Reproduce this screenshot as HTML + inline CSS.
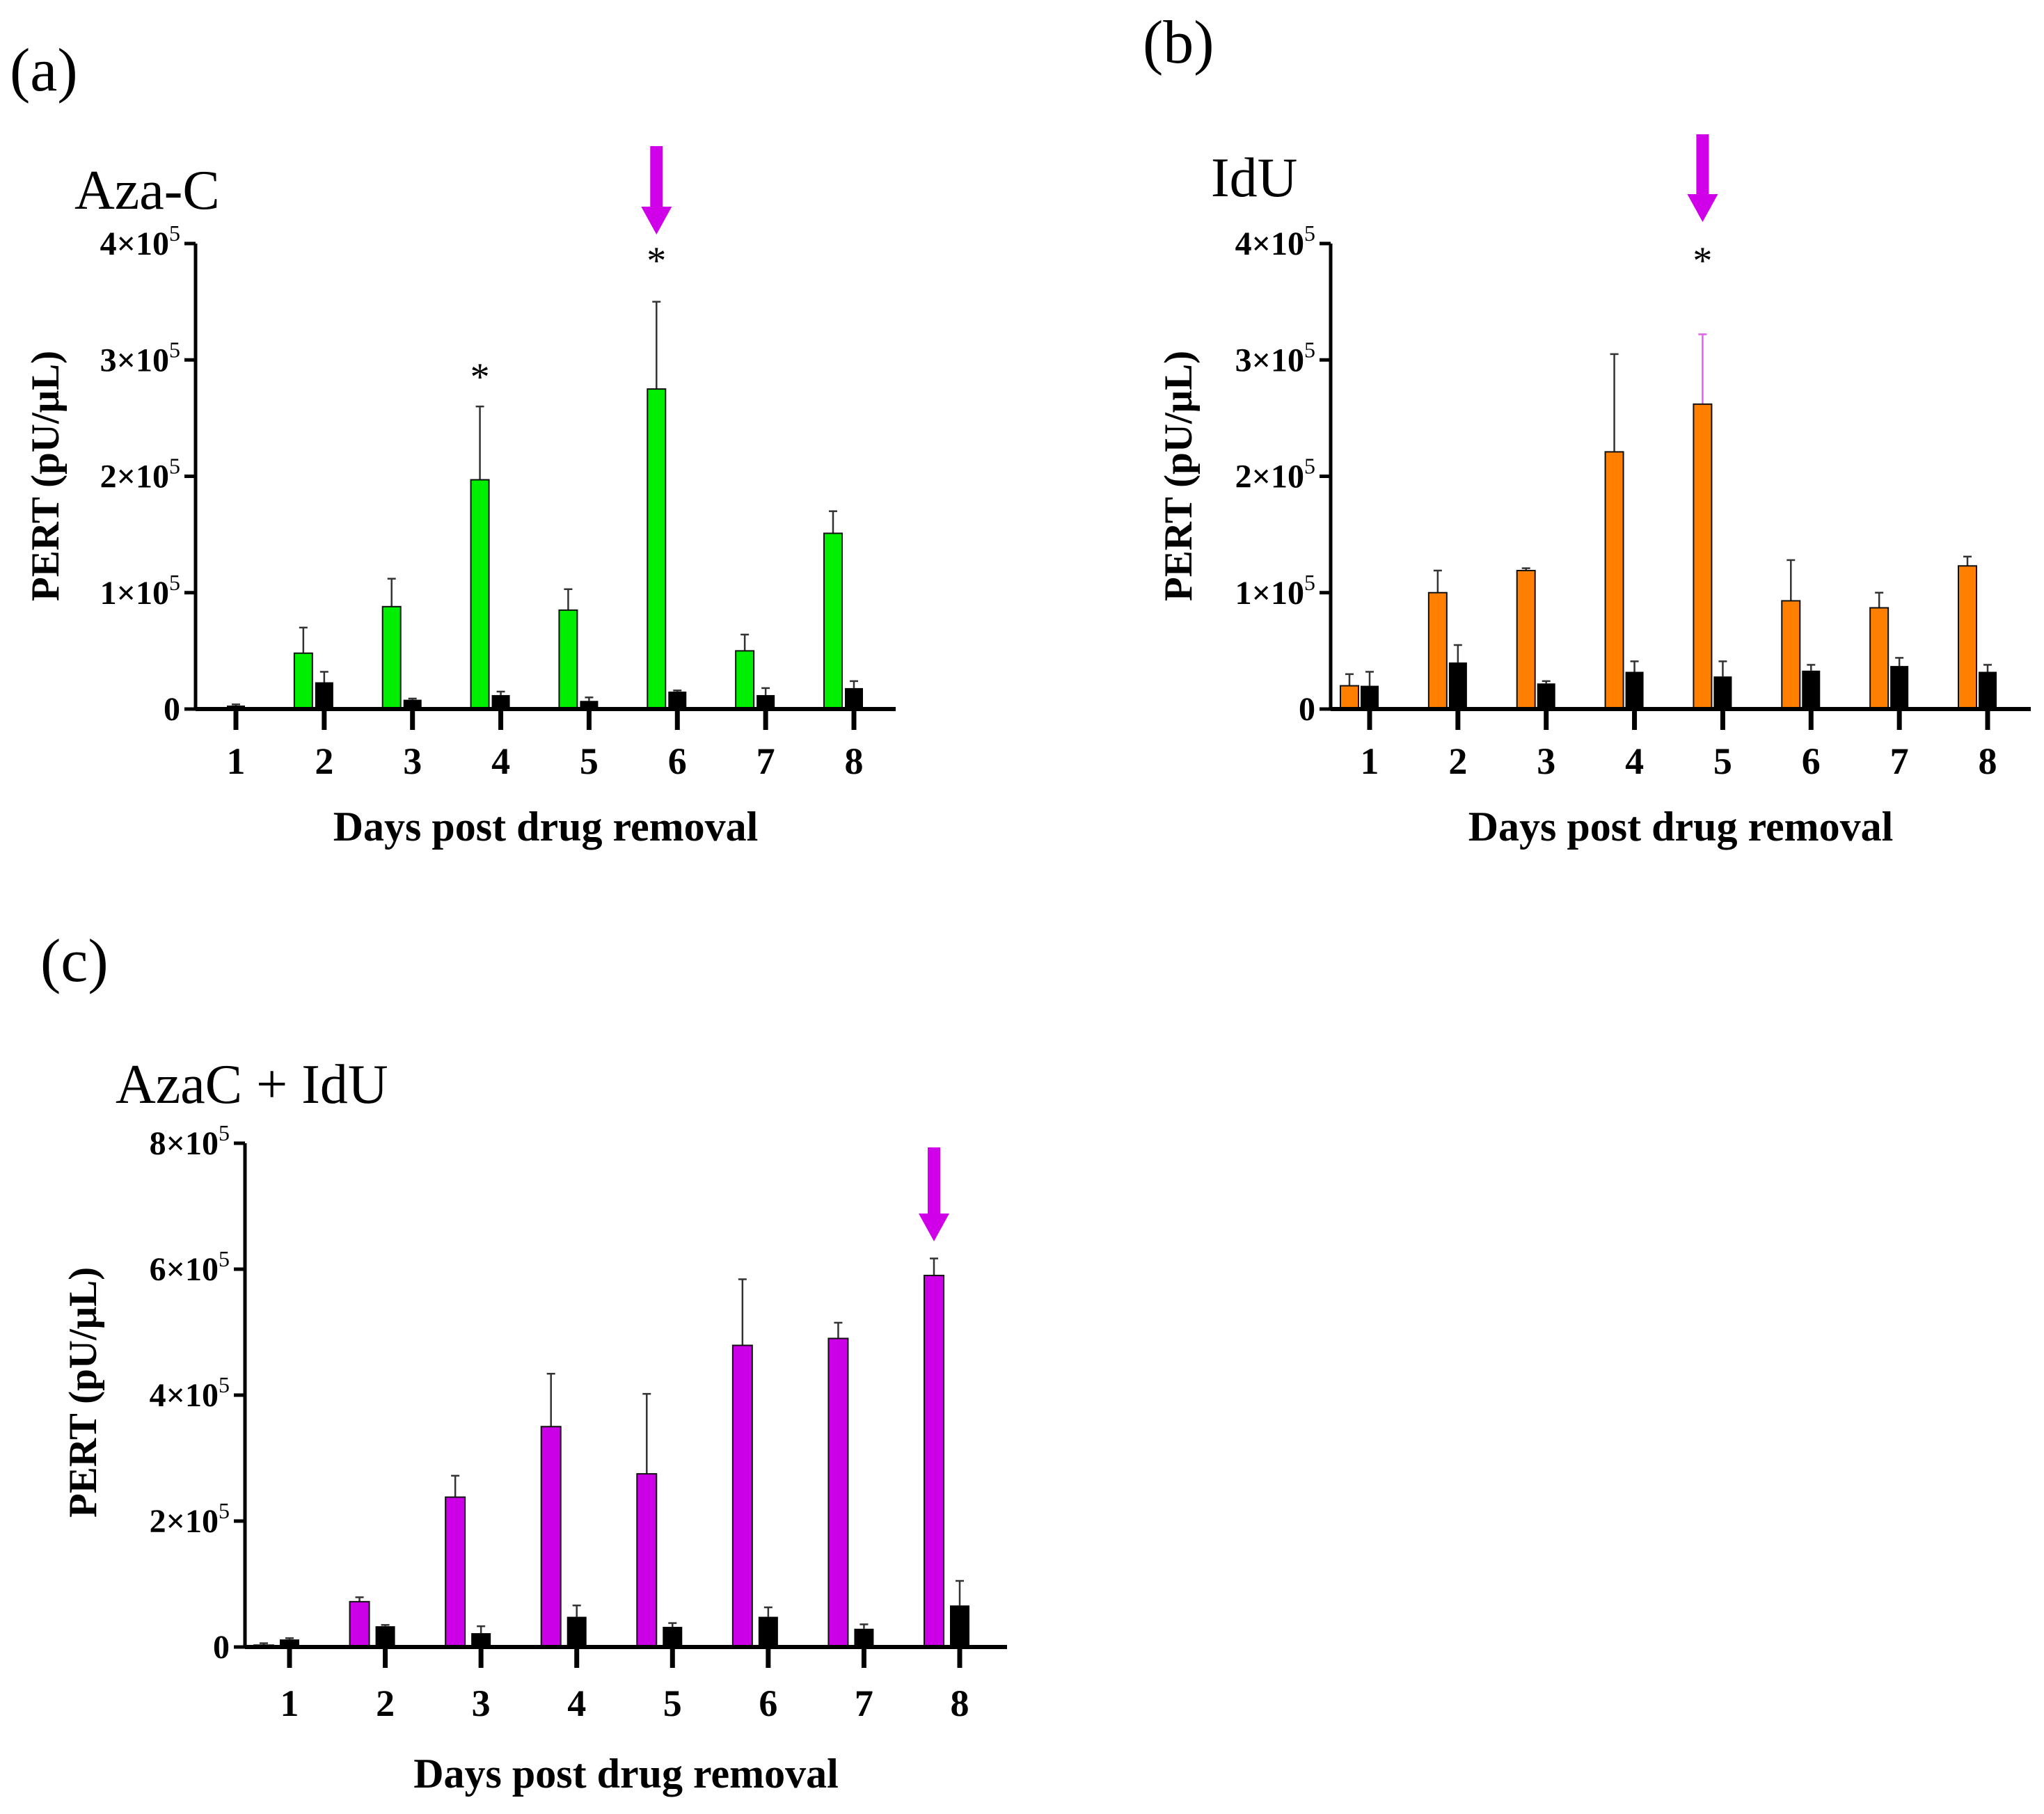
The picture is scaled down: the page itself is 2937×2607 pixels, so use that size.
<!DOCTYPE html>
<html><head><meta charset="utf-8"><style>
html,body{margin:0;padding:0;background:#fff}
svg{display:block}
text{font-family:"Liberation Serif",serif}
</style></head><body>
<svg id="fig" width="2937" height="2607" viewBox="0 0 2937 2607" xmlns="http://www.w3.org/2000/svg"></svg>
<script>
const categories = ["1","2","3","4","5","6","7","8"];
// Panel a (Aza-C), values in thousands
const azaValues = [0,48,88,197,85,275,50,151];
const azaErr = [0,70,112,260,103,350,64,170];
const azaCtrl = [3,23,8,12,7,15,12,18];
const azaCtrlErr = [4,32,9,15,10,16,18,24];
// Panel b (IdU)
const iduValues = [20,100,119,221,262,93,87,123];
const iduErr = [30,119,121,305,322,128,100,131];
const iduCtrl = [20,40,22,32,28,33,37,32];
const iduCtrlErr = [32,55,24,41,41,38,44,38];
// Panel c (AzaC + IdU)
const comboValues = [3,72,238,350,275,479,490,590];
const comboErr = [6,79,272,434,402,584,515,617];
const comboCtrl = [12,33,22,48,32,48,29,66];
const comboCtrlErr = [14,35,33,66,38,63,36,105];
const ticksAB = [0,100,200,300,400];
const tickLabelsAB = ["0","1×10","2×10","3×10","4×10"];
const ticksC = [0,200,400,600,800];
const tickLabelsC = ["0","2×10","4×10","6×10","8×10"];

const NS="http://www.w3.org/2000/svg";
const svg=document.getElementById('fig');
function mk(tag,attrs,parent){const e=document.createElementNS(NS,tag);for(const k in attrs)e.setAttribute(k,attrs[k]);(parent||svg).appendChild(e);return e;}

function panel(o){
  const g=mk('g',{});
  
  
  const y=v=>o.y0-(v/o.ymax)*(o.y0-o.ytop);
  const x=i=>o.c1+i*(o.c8-o.c1)/7;
  const pl=mk('text',{x:o.lx,y:o.ly,'font-size':88,'font-family':'Liberation Sans, sans-serif'},g);pl.textContent=o.letter;
  
  const tt=mk('text',{x:o.tx,y:o.ty,'font-size':80},g);tt.textContent=o.title;
  
  for(let i=0;i<categories.length;i++){
    const cx=x(i);
    const v=o.vals[i],e=o.err[i];
    if(v>0){
      const bx=cx+o.off-o.bw/2;
      const ec=(o.errColor&&o.errColor[i])||'#333';
      const el=mk('line',{x1:bx+o.bw/2,x2:bx+o.bw/2,y1:y(e),y2:y(v),stroke:ec,'stroke-width':2.5},g);
      
      mk('line',{x1:bx+o.bw/2-6,x2:bx+o.bw/2+6,y1:y(e),y2:y(e),stroke:ec,'stroke-width':2.5},g);
      const r=mk('rect',{x:bx,y:y(v),width:o.bw,height:o.y0-y(v),fill:o.color,stroke:'#111','stroke-width':2},g);
      
    }
    const cv=o.ctrl[i],ce=o.ctrlErr[i];
    mk('line',{x1:cx,x2:cx,y1:y(ce),y2:y(cv),stroke:'#333','stroke-width':2.5},g);
    mk('line',{x1:cx-6,x2:cx+6,y1:y(ce),y2:y(ce),stroke:'#333','stroke-width':2.5},g);
    const r2=mk('rect',{x:cx-o.bw/2,y:y(cv),width:o.bw,height:o.y0-y(cv),fill:'#000'},g);
    
    mk('line',{x1:cx,x2:cx,y1:o.y0,y2:o.y0+30,stroke:'#000','stroke-width':7},g);
    const tl=mk('text',{x:cx,y:o.xly,'font-size':54,'font-weight':'bold','text-anchor':'middle'},g);tl.textContent=categories[i];
    
  }
  const ya=mk('line',{x1:o.ax,x2:o.ax,y1:o.ytop,y2:o.y0+2,stroke:'#000','stroke-width':5},g);
  
  const xa=mk('line',{x1:o.ax,x2:o.axEnd,y1:o.y0,y2:o.y0,stroke:'#000','stroke-width':6},g);
  
  o.ticks.forEach((t,j)=>{
    mk('line',{x1:o.ax-16,x2:o.ax,y1:y(t),y2:y(t),stroke:'#000','stroke-width':5},g);
    const lab=mk('text',{x:o.ax-22,y:y(t)+16,'font-size':48,'font-weight':'bold','text-anchor':'end'},g);
    
    if(t===0){lab.textContent='0';}
    else{lab.textContent=o.tickLabels[j];const s=mk('tspan',{dy:-20,'font-size':32,'font-weight':'normal'},lab);s.textContent='5';lab.setAttribute('x',o.ax-22);}
  });
  const yt=mk('text',{transform:`translate(${o.ytx},${o.yty}) rotate(-90)`,'font-size':57,'font-weight':'bold','text-anchor':'middle'},g);
  yt.textContent='PERT (pU/μL)';
  const xt=mk('text',{x:(o.ax+o.axEnd)/2,y:o.xty,'font-size':60,'font-weight':'bold','text-anchor':'middle'},g);
  xt.textContent='Days post drug removal';
  const ax=x(o.arrowIdx)+o.off;
  const ar=mk('path',{d:`M${ax-9},${o.arT} L${ax+9},${o.arT} L${ax+9},${o.arB-40} L${ax+22},${o.arB-40} L${ax},${o.arB} L${ax-22},${o.arB-40} L${ax-9},${o.arB-40} Z`,fill:'#d000e8'},g);
  
  (o.stars||[]).forEach(s=>{const st=mk('text',{x:x(s[0])+o.off,y:s[1],'font-size':56,'text-anchor':'middle','font-family':'Liberation Sans, sans-serif'},g);st.textContent='*';
    });
}

panel({name:'panel-a-aza-c',letter:'(a)',lx:14,ly:130,title:'Aza-C',tx:107,ty:300,
  ax:281,axEnd:1287,ytop:350,y0:1019,ymax:400,c1:339,c8:1227,off:-30,bw:26,color:'#00ee00',
  vals:azaValues,err:azaErr,ctrl:azaCtrl,ctrlErr:azaCtrlErr,ticks:ticksAB,tickLabels:tickLabelsAB,
  xly:1112,xty:1208,ytx:84,yty:684,arrowIdx:5,arT:210,arB:337,stars:[[3,560],[5,393]]});
panel({name:'panel-b-idu',letter:'(b)',lx:1642,ly:90,title:'IdU',tx:1740,ty:282,
  ax:1912,axEnd:2918,ytop:350,y0:1019,ymax:400,c1:1968,c8:2856,off:-29,bw:26,color:'#ff8000',
  vals:iduValues,err:iduErr,ctrl:iduCtrl,ctrlErr:iduCtrlErr,ticks:ticksAB,tickLabels:tickLabelsAB,
  errColor:[null,null,null,null,'#e060f0'],
  xly:1112,xty:1208,ytx:1712,yty:684,arrowIdx:4,arT:193,arB:319,stars:[[4,393]]});
panel({name:'panel-c-azac-idu',letter:'(c)',lx:58,ly:1410,title:'AzaC + IdU',tx:166,ty:1585,
  ax:352,axEnd:1447,ytop:1643,y0:2367,ymax:800,c1:416,c8:1379,off:-37,bw:28,color:'#cc00e6',
  vals:comboValues,err:comboErr,ctrl:comboCtrl,ctrlErr:comboCtrlErr,ticks:ticksC,tickLabels:tickLabelsC,
  xly:2466,xty:2569,ytx:138,yty:2001,arrowIdx:7,arT:1649,arB:1784,stars:[]});
</script>
</body></html>
